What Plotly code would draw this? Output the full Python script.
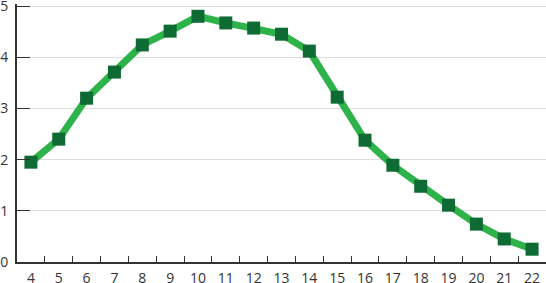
import plotly.graph_objects as go

hours = ["4", "5", "6", "7", "8", "9", "10", "11", "12", "13", "14", "15", "16", "17", "18", "19", "20", "21", "22"]
values = [1.95, 2.40, 3.20, 3.71, 4.24, 4.51, 4.80, 4.67, 4.57, 4.45, 4.12, 3.22, 2.38, 1.89, 1.48, 1.11, 0.74, 0.45, 0.25]
y_ticks = [0, 1, 2, 3, 4, 5]

fig = go.Figure()
fig.add_trace(go.Scatter(
    x=hours, y=values, mode="lines+markers",
    line=dict(color="#2eb34a", width=7),
    marker=dict(symbol="square", size=13, color="#0e6b34"),
    cliponaxis=False,
))

fig.update_layout(
    width=546, height=283,
    margin=dict(l=17, r=0, t=4, b=21, autoexpand=False),
    paper_bgcolor="white", plot_bgcolor="white",
    showlegend=False,
    font=dict(family="Open Sans", size=14, color="#333333"),
)
fig.update_xaxes(
    type="category", tickson="boundaries", ticks="inside", ticklen=6,
    tickcolor="#333333", showline=True, linecolor="#333333", linewidth=2,
    showgrid=False, range=[-0.5, 18.5], automargin=False,
    ticklabelstandoff=2, ticklabeloverflow="allow",
)
fig.update_yaxes(
    range=[0, 5.04], tickmode="array", tickvals=y_ticks,
    ticktext=[str(v) for v in y_ticks], ticks="inside", ticklen=13,
    tickcolor="#333333", showline=True, linecolor="#333333", linewidth=2,
    showgrid=True, gridcolor="#dddddd", gridwidth=1, zeroline=False,
    ticklabelstandoff=4, automargin=False, ticklabeloverflow="allow",
)

fig.write_html("out.html", config={"displayModeBar": False},
               post_script="document.body.style.margin='0';")
